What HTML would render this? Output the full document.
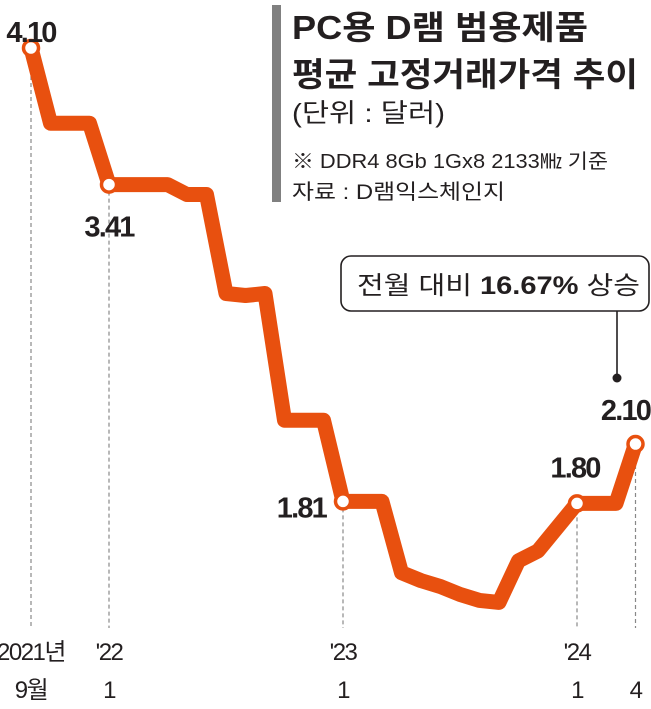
<!DOCTYPE html>
<html><head><meta charset="utf-8"><style>
html,body{margin:0;padding:0;background:#fff;}
svg{display:block;font-family:"Liberation Sans","Noto Sans CJK KR",sans-serif;}
</style></head><body>
<svg width="651" height="709" viewBox="0 0 651 709">
<rect x="272" y="5" width="9" height="197" fill="#808080"/>
<g fill="#231f20">
<text x="292" y="39" font-size="33" font-weight="bold" textLength="296" lengthAdjust="spacingAndGlyphs">PC용 D램 범용제품</text>
<text x="292" y="86" font-size="33" font-weight="bold" textLength="346" lengthAdjust="spacingAndGlyphs">평균 고정거래가격 추이</text>
<text x="292" y="122" font-size="26" textLength="153" lengthAdjust="spacingAndGlyphs">(단위 : 달러)</text>
<text x="292" y="168" font-size="20" textLength="316" lengthAdjust="spacingAndGlyphs">※ DDR4 8Gb 1Gx8 2133㎒ 기준</text>
<text x="292" y="199" font-size="21" textLength="213" lengthAdjust="spacingAndGlyphs">자료 : D램익스체인지</text>
</g>
<g id="chart"></g>
<g>
<rect x="341" y="256" width="308" height="55" rx="10" fill="#fff" stroke="#231f20" stroke-width="1.6"/>
<text x="357" y="294" font-size="25" fill="#231f20" textLength="283" lengthAdjust="spacingAndGlyphs">전월 대비 <tspan font-weight="bold">16.67%</tspan> 상승</text>
<line x1="617" y1="311" x2="617" y2="378" stroke="#231f20" stroke-width="1.6"/>
<circle cx="617" cy="378" r="4.5" fill="#231f20"/>
</g>
</svg>
<script>
const months = ["2021-09","2021-10","2021-11","2021-12","2022-01","2022-02","2022-03","2022-04","2022-05","2022-06","2022-07","2022-08","2022-09","2022-10","2022-11","2022-12","2023-01","2023-02","2023-03","2023-04","2023-05","2023-06","2023-07","2023-08","2023-09","2023-10","2023-11","2023-12","2024-01","2024-02","2024-03","2024-04"];
const prices = [4.10,3.72,3.72,3.72,3.41,3.41,3.41,3.41,3.36,3.36,2.86,2.85,2.86,2.22,2.22,2.22,1.81,1.81,1.81,1.45,1.41,1.38,1.34,1.31,1.30,1.51,1.56,1.68,1.80,1.80,1.80,2.10];
const markedIdx = [0,4,16,28,31];
const valueLabels = ["4.10","3.41","1.81","1.80","2.10"];
const tickTop = ["2021년","'22","'23","'24",""];
const tickBottom = ["9월","1","1","1","4"];

const NS="http://www.w3.org/2000/svg";
const g=document.getElementById('chart');
function xs(i){return 31+19.5*i;}
function ys(v){return 48+(4.10-v)*198;}
function mk(t,a){const e=document.createElementNS(NS,t);for(const k in a)e.setAttribute(k,a[k]);g.appendChild(e);return e;}

markedIdx.forEach((idx)=>{
  const l=mk('line',{x1:xs(idx),x2:xs(idx),y1:ys(prices[idx]),y2:628,stroke:'#888','stroke-width':1.2,'stroke-dasharray':'4,3'});
  
  
});
const pts=prices.map((v,i)=>xs(i)+','+ys(v)).join(' ');
const pl=mk('polyline',{points:pts,fill:'none',stroke:'#e8500f','stroke-width':15,'stroke-linejoin':'round','stroke-linecap':'round'});


const labelOff=[[0,-6,'middle'],[0,52,'middle'],[-17,16,'end'],[-2,-26,'middle'],[-10,-24,'middle']];
markedIdx.forEach((idx,k)=>{
  const c=mk('circle',{cx:xs(idx),cy:ys(prices[idx]),r:7.5,fill:'#fff',stroke:'#e8500f','stroke-width':3.5});
  
  
  const o=labelOff[k];
  const t=mk('text',{x:xs(idx)+o[0],y:ys(prices[idx])+o[1],'font-size':29,'font-weight':'bold',fill:'#231f20','text-anchor':o[2],'letter-spacing':'-1.8'});
  t.textContent=valueLabels[k];
  
  
  const a=mk('text',{x:xs(idx),y:660,'font-size':24,fill:'#231f20','text-anchor':'middle','letter-spacing':'-1.5'});
  a.textContent=tickTop[k];
  
  
  const b=mk('text',{x:xs(idx),y:698,'font-size':24,fill:'#231f20','text-anchor':'middle','letter-spacing':'-1.5'});
  b.textContent=tickBottom[k];
  
  
});
</script>
</body></html>
